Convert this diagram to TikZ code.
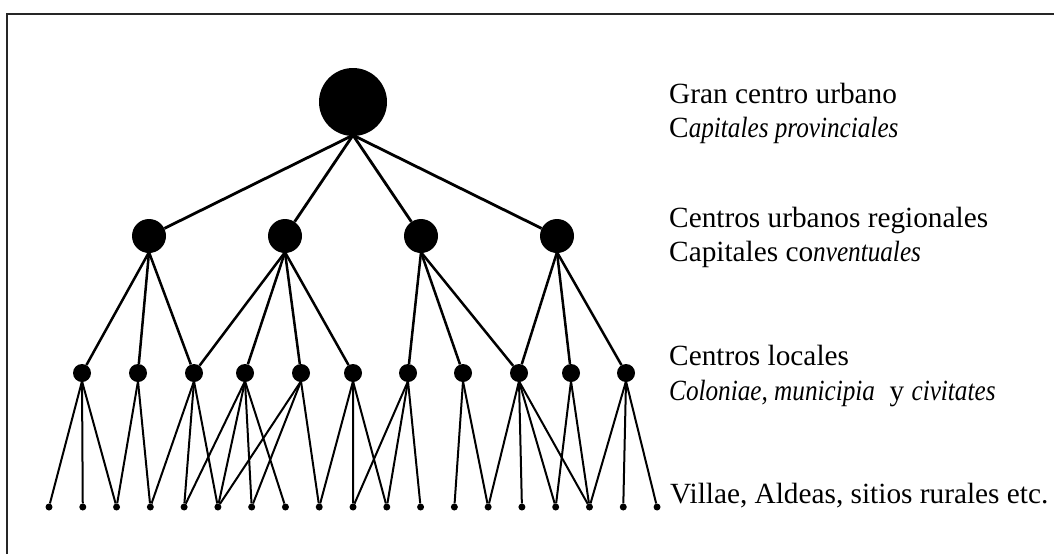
\documentclass[tikz,border=0pt]{standalone}
\usepackage{fontspec}
\setmainfont{Liberation Serif}[ItalicFeatures={FakeStretch=0.86}]
\begin{document}
\begin{tikzpicture}[x=1pt,y=-1pt,
  big/.style={circle,fill=black,inner sep=0pt,minimum size=68pt},
  reg/.style={circle,fill=black,inner sep=0pt,minimum size=34pt},
  loc/.style={circle,fill=black,inner sep=0pt,minimum size=18pt},
  vil/.style={circle,fill=black,inner sep=0pt,minimum size=7pt},
  eA/.style={line width=2.8pt},
  eB/.style={line width=2.5pt},
  eC/.style={line width=2pt},
  lab/.style={anchor=base west,inner sep=0pt,font=\fontsize{29.3}{34}\selectfont}]
\useasboundingbox (0,0) rectangle (1054,554);
\draw[line width=1.5pt,black!85] (7,554) -- (7,14) -- (1054,14);
% nodes
\node[big] (T) at (353,102) {};
\foreach \x [count=\i] in {149,285,421,557} \node[reg] (R\i) at (\x,236) {};
\foreach \x [count=\i] in {82,138,194,245,301,353,408,463,519,571,626} \node[loc] (L\i) at (\x,373) {};
\foreach \i in {1,...,19} \node[vil] (B\i) at ({49+(\i-1)*33.78},507) {};
% edges top -> regional
\foreach \i in {1,...,4} \draw[eA] ([yshift=1pt]T.south) -- (R\i);
% regional -> local
\foreach \a/\b in {1/1,1/2,1/3,2/3,2/4,2/5,2/6,3/7,3/8,3/9,4/9,4/10,4/11}
  \draw[eB] ([yshift=1pt]R\a.south) -- (L\b);
% local -> rural
\foreach \a/\b in {1/1,1/2,1/3,2/3,2/4,3/4,3/5,3/6,4/5,4/6,4/7,4/8,5/6,5/7,5/9,
  6/9,6/10,6/11,7/10,7/11,7/12,8/13,8/14,9/14,9/15,9/16,9/17,10/16,10/17,11/17,11/18,11/19}
  \draw[eC] ([yshift=1pt]L\a.south) -- (B\b);
% labels
\node[lab] (t1) at (669,103) {Gran centro urbano};
\node[lab] (t2) at (669,137) {C\textit{apitales provinciales}};
\node[lab] (t3) at (669,227) {Centros urbanos regionales};
\node[lab] (t4) at (669,261) {Capitales co\textit{nventuales}};
\node[lab] (t5) at (669,365) {Centros locales};
\node[lab] (t6) at (669,400) {\textit{Coloniae, municipia}\ \ y \textit{civitates}};
\node[lab] (t7) at (670,503) {Villae, Aldeas, sitios rurales etc.};
\end{tikzpicture}
\end{document}
